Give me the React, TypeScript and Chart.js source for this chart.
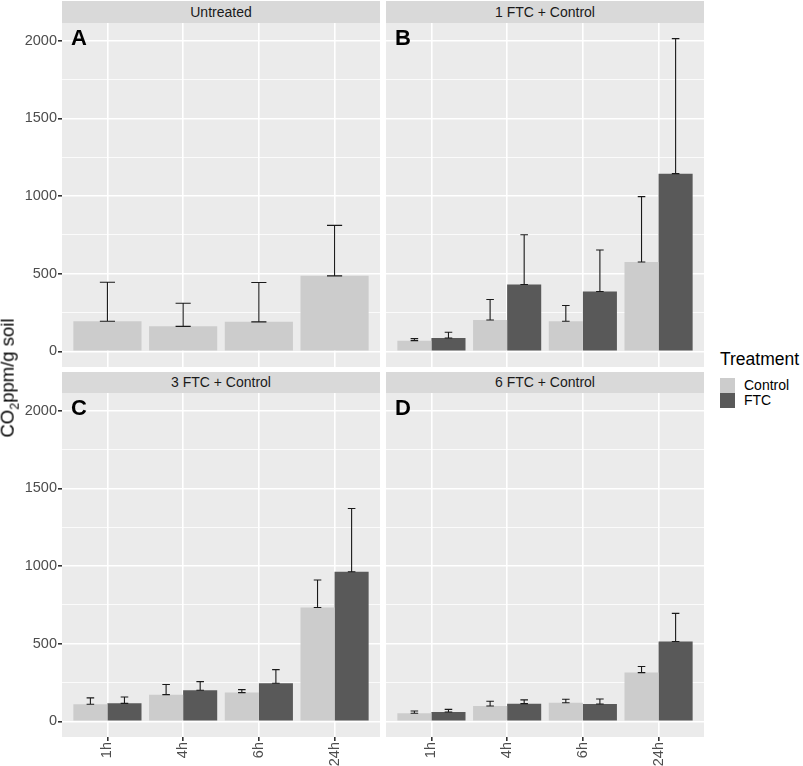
import { useEffect, useRef } from "react";
import { Chart, registerables } from "chart.js";

Chart.register(...registerables);

const FONT = '"Liberation Sans", Arial, Helvetica, sans-serif';

const timeLabels = ["1h", "4h", "6h", "24h"];
const timePositions = [1, 2, 3, 4];
const yTicks = [0, 250, 500, 750, 1000, 1250, 1500, 1750, 2000];

// bar heights (mean) and top of error bar (mean + se), CO2 ppm/g soil
const untreatedControl = [194, 161, 190, 486];
const untreatedControlUpper = [445, 310, 443, 811];

const ftc1Control = [69, 202, 194, 575];
const ftc1ControlUpper = [82, 334, 295, 996];
const ftc1Ftc = [86, 430, 385, 1144];
const ftc1FtcUpper = [123, 751, 652, 2013];

const ftc3Control = [110, 172, 185, 733];
const ftc3ControlUpper = [151, 237, 204, 910];
const ftc3Ftc = [116, 200, 245, 963];
const ftc3FtcUpper = [157, 256, 333, 1370];

const ftc6Control = [52, 99, 120, 314];
const ftc6ControlUpper = [67, 129, 142, 353];
const ftc6Ftc = [60, 114, 112, 514];
const ftc6FtcUpper = [77, 138, 144, 695];

const CONTROL_COLOR = "#cccccc";
const FTC_COLOR = "#595959";

// ggplot style 5% expansion of 0..2013
const Y_MIN = -100.65;
const Y_MAX = 2113.65;

const panelPlugin = {
  id: "panelExtras",
  beforeDraw(chart: any) {
    const { ctx, chartArea } = chart;
    ctx.save();
    ctx.fillStyle = "#ebebeb";
    ctx.fillRect(
      chartArea.left,
      chartArea.top,
      chartArea.right - chartArea.left,
      chartArea.bottom - chartArea.top
    );
    ctx.restore();
  },
  afterDatasetsDraw(chart: any, _args: any, opts: any) {
    const { ctx } = chart;
    const xs = chart.scales.x;
    const ys = chart.scales.y;
    const capHalf =
      (xs.getPixelForValue(opts.capWidth) - xs.getPixelForValue(0)) / 2;
    ctx.save();
    ctx.strokeStyle = "#1a1a1a";
    ctx.lineWidth = 1.1;
    chart.data.datasets.forEach((ds: any, i: number) => {
      const meta = chart.getDatasetMeta(i);
      meta.data.forEach((bar: any, j: number) => {
        const top = ys.getPixelForValue(ds.upper[j]);
        const base = ys.getPixelForValue(ds.data[j].y);
        ctx.beginPath();
        ctx.moveTo(bar.x, top);
        ctx.lineTo(bar.x, base);
        ctx.moveTo(bar.x - capHalf, top);
        ctx.lineTo(bar.x + capHalf, top);
        ctx.moveTo(bar.x - capHalf, base);
        ctx.lineTo(bar.x + capHalf, base);
        ctx.stroke();
      });
    });
    // panel letter
    ctx.fillStyle = "#000";
    ctx.font = `bold 22px ${FONT}`;
    ctx.textBaseline = "middle";
    ctx.textAlign = "left";
    ctx.fillText(opts.letter, chart.chartArea.left + 9, ys.getPixelForValue(2000) - 2);
    ctx.restore();
  },
};

type Series = { label: string; values: number[]; upper: number[]; color: string };

function Panel({
  series,
  letter,
  capWidth,
  showX,
  showY,
}: {
  series: Series[];
  letter: string;
  capWidth: number;
  showX: boolean;
  showY: boolean;
}) {
  const canvasRef = useRef<HTMLCanvasElement | null>(null);

  useEffect(() => {
    if (!canvasRef.current) return;
    const chart = new Chart(canvasRef.current, {
      type: "bar",
      data: {
        datasets: series.map((s) => ({
          label: s.label,
          data: timePositions.map((x, i) => ({ x, y: s.values[i] })),
          upper: s.upper,
          backgroundColor: s.color,
          borderWidth: 0,
          categoryPercentage: 0.9,
          barPercentage: 1,
        })) as any,
      },
      options: {
        animation: false,
        responsive: true,
        maintainAspectRatio: false,
        layout: { padding: 0 },
        plugins: {
          legend: { display: false },
          tooltip: { enabled: false },
          panelExtras: { capWidth, letter },
        } as any,
        scales: {
          x: {
            type: "linear",
            min: 0.4,
            max: 4.6,
            offset: false,
            afterBuildTicks: (s: any) => {
              s.ticks = timePositions.map((v) => ({ value: v }));
            },
            afterFit: (s: any) => {
              s.height = showX ? 29 : 0;
              s.paddingLeft = 0;
              s.paddingRight = 0;
            },
            grid: {
              color: "#ffffff",
              lineWidth: 1.6,
              offset: false,
              drawTicks: showX,
              tickLength: 4,
              tickColor: "#333333",
            },
            border: { display: false },
            ticks: {
              display: showX,
              autoSkip: false,
              minRotation: 90,
              maxRotation: 90,
              padding: 1,
              color: "#4d4d4d",
              font: { family: FONT, size: 14.5 },
              callback: (v: any) => timeLabels[timePositions.indexOf(Number(v))] ?? "",
            },
          },
          y: {
            type: "linear",
            min: Y_MIN,
            max: Y_MAX,
            afterBuildTicks: (s: any) => {
              s.ticks = yTicks.map((v) => ({ value: v }));
            },
            afterFit: (s: any) => {
              s.width = showY ? 62 : 0;
              s.paddingTop = 0;
              s.paddingBottom = 0;
            },
            grid: {
              color: "#ffffff",
              lineWidth: (c: any) => (c.tick && c.tick.value % 500 === 0 ? 1.6 : 0.8),
              drawTicks: showY,
              tickLength: 4,
              tickColor: (c: any) =>
                c.tick && c.tick.value % 500 === 0 ? "#333333" : "rgba(0,0,0,0)",
            },
            border: { display: false },
            ticks: {
              display: showY,
              autoSkip: false,
              padding: 1,
              color: "#4d4d4d",
              font: { family: FONT, size: 14.5 },
              callback: (v: any) => (Number(v) % 500 === 0 ? String(v) : ""),
            },
          },
        },
      } as any,
      plugins: [panelPlugin as any],
    });
    return () => chart.destroy();
  }, [series, letter, capWidth, showX, showY]);

  return <canvas ref={canvasRef} />;
}

const panels = [
  {
    title: "Untreated",
    letter: "A",
    capWidth: 0.2,
    series: [
      { label: "Control", values: untreatedControl, upper: untreatedControlUpper, color: CONTROL_COLOR },
    ],
  },
  {
    title: "1 FTC + Control",
    letter: "B",
    capWidth: 0.1,
    series: [
      { label: "Control", values: ftc1Control, upper: ftc1ControlUpper, color: CONTROL_COLOR },
      { label: "FTC", values: ftc1Ftc, upper: ftc1FtcUpper, color: FTC_COLOR },
    ],
  },
  {
    title: "3 FTC + Control",
    letter: "C",
    capWidth: 0.1,
    series: [
      { label: "Control", values: ftc3Control, upper: ftc3ControlUpper, color: CONTROL_COLOR },
      { label: "FTC", values: ftc3Ftc, upper: ftc3FtcUpper, color: FTC_COLOR },
    ],
  },
  {
    title: "6 FTC + Control",
    letter: "D",
    capWidth: 0.1,
    series: [
      { label: "Control", values: ftc6Control, upper: ftc6ControlUpper, color: CONTROL_COLOR },
      { label: "FTC", values: ftc6Ftc, upper: ftc6FtcUpper, color: FTC_COLOR },
    ],
  },
];

// layout boxes: plot area x range and row top
const cols = [
  { plotLeft: 62, plotRight: 380 },
  { plotLeft: 386, plotRight: 704 },
];
const rows = [
  { stripTop: 1, plotTop: 23 },
  { stripTop: 372, plotTop: 393 },
];
const PLOT_H = 344;

export default function App() {
  return (
    <div
      style={{
        position: "absolute",
        left: 0,
        top: 0,
        width: 803,
        height: 766,
        background: "#ffffff",
        overflow: "hidden",
        fontFamily: FONT,
      }}
    >
      {panels.map((p, idx) => {
        const col = cols[idx % 2];
        const row = rows[Math.floor(idx / 2)];
        const showY = idx % 2 === 0;
        const showX = idx >= 2;
        const left = showY ? 0 : col.plotLeft;
        return (
          <div key={p.title}>
            <div
              style={{
                position: "absolute",
                left: col.plotLeft,
                top: row.stripTop,
                width: col.plotRight - col.plotLeft,
                height: row.plotTop - row.stripTop,
                background: "#d9d9d9",
                color: "#1a1a1a",
                fontSize: 14,
                lineHeight: `${row.plotTop - row.stripTop}px`,
                textAlign: "center",
              }}
            >
              {p.title}
            </div>
            <div
              style={{
                position: "absolute",
                left,
                top: row.plotTop,
                width: col.plotRight - left,
                height: PLOT_H + (showX ? 29 : 0),
              }}
            >
              <Panel
                series={p.series}
                letter={p.letter}
                capWidth={p.capWidth}
                showX={showX}
                showY={showY}
              />
            </div>
          </div>
        );
      })}

      {/* y axis title */}
      <div
        style={{
          position: "absolute",
          left: 9,
          top: 378,
          transform: "translate(-50%, -50%) rotate(-90deg)",
          whiteSpace: "nowrap",
          fontSize: 18.5,
          color: "#000",
        }}
      >
        CO<sub style={{ fontSize: 12.5 }}>2</sub>ppm/g soil
      </div>

      {/* legend */}
      <div
        style={{
          position: "absolute",
          left: 720,
          top: 349,
          fontSize: 17.5,
          color: "#000",
          whiteSpace: "nowrap",
        }}
      >
        Treatment
      </div>
      {[
        { label: "Control", color: CONTROL_COLOR, top: 377.5 },
        { label: "FTC", color: FTC_COLOR, top: 392.5 },
      ].map((k) => (
        <div key={k.label}>
          <div
            style={{
              position: "absolute",
              left: 720,
              top: k.top,
              width: 14.5,
              height: 15,
              background: k.color,
            }}
          />
          <div
            style={{
              position: "absolute",
              left: 744,
              top: k.top,
              height: 15,
              lineHeight: "15px",
              fontSize: 14,
              color: "#000",
              whiteSpace: "nowrap",
            }}
          >
            {k.label}
          </div>
        </div>
      ))}
    </div>
  );
}
